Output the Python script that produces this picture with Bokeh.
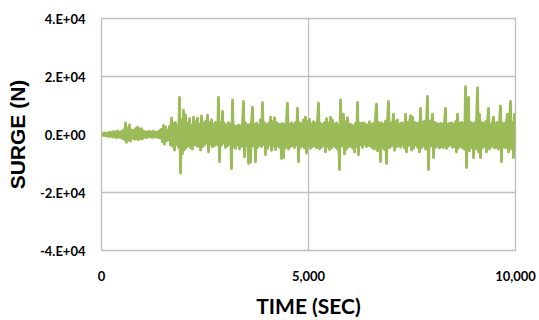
import numpy as np
from bokeh.plotting import figure
from bokeh.models import FixedTicker, NumeralTickFormatter
from bokeh.embed import file_html
from bokeh.resources import INLINE

# Surge force record (kN), one sample per ~24 s over the 10,000 s run
surge_kn = [
    0.0, -0.3, 0.5, -0.4, 0.6, -0.5, 0.4, -0.7, 0.8, -0.6,
    0.7, -0.9, 1.0, -0.8, 0.9, -1.1, 1.2, -0.9, 0.8, -1.0,
    1.1, -1.3, 1.6, -1.8, 4.0, -2.7, 2.2, -1.9, 3.3, -2.3,
    1.5, -1.2, 1.4, -1.6, 2.0, -1.5, 2.5, -1.8, 1.9, -1.4,
    2.0, -1.5, 1.2, -1.0, 0.9, -1.1, 1.0, -0.8, 1.1, -0.9,
    0.8, -1.0, 1.2, -0.9, 0.7, -0.8, 0.9, -1.1, 1.3, -1.2,
    1.8, -2.5, 3.1, -3.3, 2.6, -2.2, 1.5, -1.8, 2.8, -3.6,
    5.7, -4.0, 3.8, -5.4, 4.2, -3.5, 3.0, -4.4, 12.8, -13.3,
    5.0, -6.6, 8.4, -5.2, 6.8, -4.5, 4.0, -3.8, 5.5, -4.6,
    3.2, -5.0, 6.0, -3.5, 4.4, -3.9, 5.6, -4.1, 3.5, -5.4,
    6.4, -4.2, 3.8, -3.6, 4.5, -3.0, 6.7, -6.0, 4.1, -3.4,
    5.0, -4.3, 3.6, -3.8, 4.2, -3.2, -3.5, 12.8, -9.4, 4.0,
    -3.6, 8.0, -3.0, 3.8, -4.5, 3.2, -3.9, 4.1, -3.3, 3.6,
    -11.8, 11.9, -4.2, 3.0, -4.8, 2.8, -3.6, 3.2, -5.0, 3.0,
    -4.1, 3.4, 11.4, -7.7, 4.0, -3.8, 3.2, -10.0, 3.5, -9.6,
    4.2, 9.4, -4.0, 3.6, -9.4, 3.9, -4.5, 3.3, -3.8, 5.0,
    -4.2, 11.0, -3.5, 4.0, -7.0, 3.4, -4.8, 3.8, -3.6, 6.0,
    -5.5, 4.4, -4.0, 5.8, -5.2, 4.2, -3.8, 3.6, -4.4, 3.5,
    -8.3, 3.8, -8.0, 3.4, -4.6, 4.0, 10.8, -5.0, 3.6, -4.2,
    4.0, -3.8, 3.5, -4.5, 4.2, -3.6, 9.0, -9.4, 4.0, -4.4,
    3.8, -4.0, 5.0, -4.6, 6.0, -6.4, 4.5, -3.8, 5.2, -4.8,
    3.6, -4.2, 4.4, -3.9, 3.8, -4.6, 4.0, 10.8, -5.0, 3.8,
    -4.4, 3.5, -3.8, 4.2, -6.0, 5.5, -4.2, 3.9, -5.2, 6.0,
    -4.6, 5.0, -3.8, 3.6, -4.4, 4.0, -5.0, 3.2, -12.1, 11.9,
    -4.0, 3.8, 7.0, -6.7, 4.4, -5.0, 5.8, -4.2, 3.6, -4.0,
    3.4, -4.6, 3.0, -6.0, 3.8, -4.2, 11.1, -7.0, 4.0, -3.6,
    3.8, -4.5, 4.0, -3.4, 3.6, -4.2, 3.2, -3.8, 4.4, -4.0,
    3.5, -4.6, 3.8, -5.0, 6.0, 10.5, -5.6, 4.2, 3.0, -9.4,
    4.0, -4.4, 3.6, -5.2, 4.6, -10.0, 4.2, 11.4, -4.6, 3.8,
    -4.0, 3.6, 7.0, -5.5, 4.4, -4.2, 5.0, -3.8, 3.6, -4.4,
    4.0, -3.6, 3.8, -4.6, 7.0, -6.0, 4.2, -3.8, 4.0, 6.5,
    -5.4, 6.0, -4.8, 4.2, -3.6, 3.8, -4.4, 4.0, -6.0, 9.0,
    -4.6, 4.2, -3.8, 4.6, -5.0, 4.0, 13.1, -12.1, 4.4, -4.0,
    3.6, 7.0, -8.0, 4.2, -4.4, 3.8, -4.0, 3.5, -4.6, 3.8,
    -4.2, 3.6, -4.5, 4.0, 9.0, -4.8, 3.5, -4.0, 3.8, -3.6,
    4.0, -4.4, 3.6, -4.2, 4.4, -6.0, 7.0, -4.6, 3.8, -4.0,
    4.2, -4.6, 3.8, -5.0, 16.5, -11.4, 5.0, 12.8, -5.6, 4.2,
    -4.4, 3.8, -8.0, 4.0, -5.0, 3.6, 16.1, -6.0, 7.0, -8.0,
    4.2, -4.6, 3.8, -4.0, 4.4, -6.0, 4.0, 9.0, -5.0, 3.6,
    -4.2, 4.0, 6.0, -4.6, 3.8, -4.4, 4.2, -5.0, 3.6, 9.9,
    -9.4, 4.0, -4.2, 3.8, -4.6, 4.4, 7.0, -6.0, 4.0, 11.4,
    -5.0, 4.2, -8.0, 7.0, -4.0,
]

duration_s = 10000
time_s = np.linspace(0, duration_s, len(surge_kn))
surge_n = np.array(surge_kn) * 1000.0

y_ticks = [-40000, -20000, 0, 20000, 40000]
y_tick_labels = ["-4.E+04", "-2.E+04", "0.E+00", "2.E+04", "4.E+04"]
x_ticks = [0, 5000, 10000]

p = figure(
    width=539, height=320,
    x_range=(0, 10000), y_range=(-40000, 40000),
    output_backend="svg", toolbar_location=None,
    min_border_left=101, min_border_right=24,
    min_border_top=18, min_border_bottom=64,
    background_fill_color="white", border_fill_color="white",
)

p.line(time_s, surge_n, line_color="#9BBB59", line_width=2.8, line_join="round")

grid_col = "#BEBEBE"
p.outline_line_color = grid_col
p.outline_line_width = 1.3
p.xgrid.grid_line_color = grid_col
p.ygrid.grid_line_color = grid_col
p.xgrid.grid_line_width = 1.3
p.ygrid.grid_line_width = 1.3

p.yaxis.ticker = FixedTicker(ticks=y_ticks)
p.yaxis.major_label_overrides = dict(zip(y_ticks, y_tick_labels))
p.xaxis.ticker = FixedTicker(ticks=x_ticks)
p.xaxis.formatter = NumeralTickFormatter(format="0,0")

for ax in (p.xaxis[0], p.yaxis[0]):
    ax.axis_line_color = None
    ax.major_tick_line_color = None
    ax.minor_tick_line_color = None
    ax.major_label_text_font = "Lato"
    ax.major_label_text_font_style = "bold"
    ax.major_label_text_font_size = "13px"
    ax.major_label_text_color = "#000000"
    ax.axis_label_text_font_style = "bold"
    ax.axis_label_text_color = "#000000"

p.xaxis.major_label_standoff = 14
p.yaxis.major_label_standoff = 10

p.xaxis.axis_label = "TIME (SEC)"
p.xaxis.axis_label_text_font = "Lato"
p.xaxis.axis_label_text_font_size = "21px"
p.xaxis.axis_label_standoff = 9

p.yaxis.axis_label = "SURGE (N)"
p.yaxis.axis_label_text_font = "Liberation Sans"
p.yaxis.axis_label_text_font_size = "21px"
p.yaxis.axis_label_standoff = 8

open("out.html", "w").write(file_html(p, INLINE))
